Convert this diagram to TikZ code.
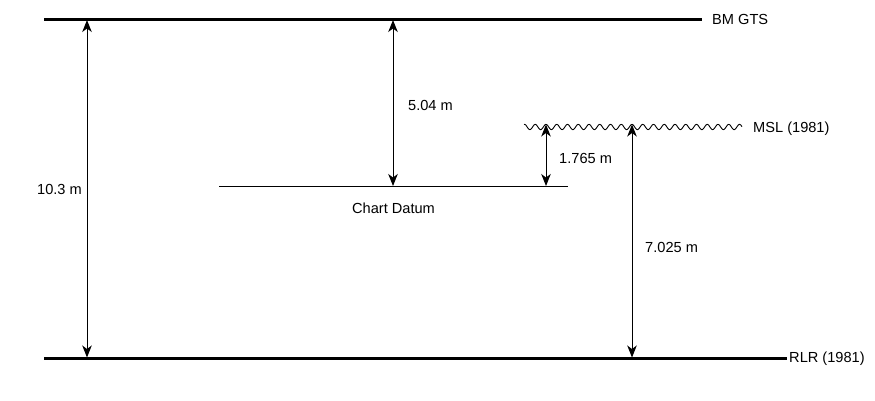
\documentclass[tikz,border=0pt]{standalone}
\usepackage{fontspec}
\setmainfont{Liberation Sans}
\usetikzlibrary{arrows.meta}
\begin{document}
\begin{tikzpicture}[x=1pt,y=-1pt,
  levelline/.style={line width=3pt},
  thinline/.style={line width=1pt},
  dimarrow/.style={line width=1pt,{Stealth[length=12pt,width=9.5pt,inset=3.5pt]}-{Stealth[length=12pt,width=9.5pt,inset=3.5pt]}},
  wave/.style={line width=0.9pt},
  lbl/.style={font=\fontsize{14.6}{17}\selectfont,inner sep=0pt}]
\useasboundingbox (0,0) rectangle (875,400);

% levels
\coordinate (bmL) at (44,19);  \coordinate (bmR) at (702,19);
\coordinate (rlL) at (44,358); \coordinate (rlR) at (787,358);
\coordinate (cdL) at (219,186); \coordinate (cdR) at (568,186);

\draw[levelline] (bmL) -- (bmR);
\draw[levelline] (rlL) -- (rlR);
\draw[thinline] (cdL) -- (cdR);
\draw[wave] plot[domain=-22:196,samples=400,smooth] ({546+\x},{127-2.6*cos(33.488*\x)});

\node[lbl,anchor=west] (bm) at (712,19) {BM GTS};
\node[lbl,anchor=west] (rl) at (789,359) {RLR (1981)};
\node[lbl,anchor=west] (ms) at (753,129) {MSL (1981)};
\node[lbl] (cd) at (393.5,208) {Chart Datum};

% dimension arrows
\coordinate (a1t) at (87,20);  \coordinate (a1b) at (87,357.5);
\coordinate (a2t) at (393,20); \coordinate (a2b) at (393,186);
\coordinate (a3t) at (546,124.5);  \coordinate (a3b) at (546,186);
\coordinate (a4t) at (632,124.5);  \coordinate (a4b) at (632,357.5);

\draw[dimarrow] (a1t) -- (a1b);
\draw[dimarrow] (a2t) -- (a2b);
\draw[dimarrow] (a3t) -- (a3b);
\draw[dimarrow] (a4t) -- (a4b);

\node[lbl,anchor=east] (l1) at (82,189) {10.3 m};
\node[lbl,anchor=west] (l2) at (408,105) {5.04 m};
\node[lbl,anchor=west] (l3) at (559,158) {1.765 m};
\node[lbl,anchor=west] (l4) at (645,247) {7.025 m};
\end{tikzpicture}
\end{document}
